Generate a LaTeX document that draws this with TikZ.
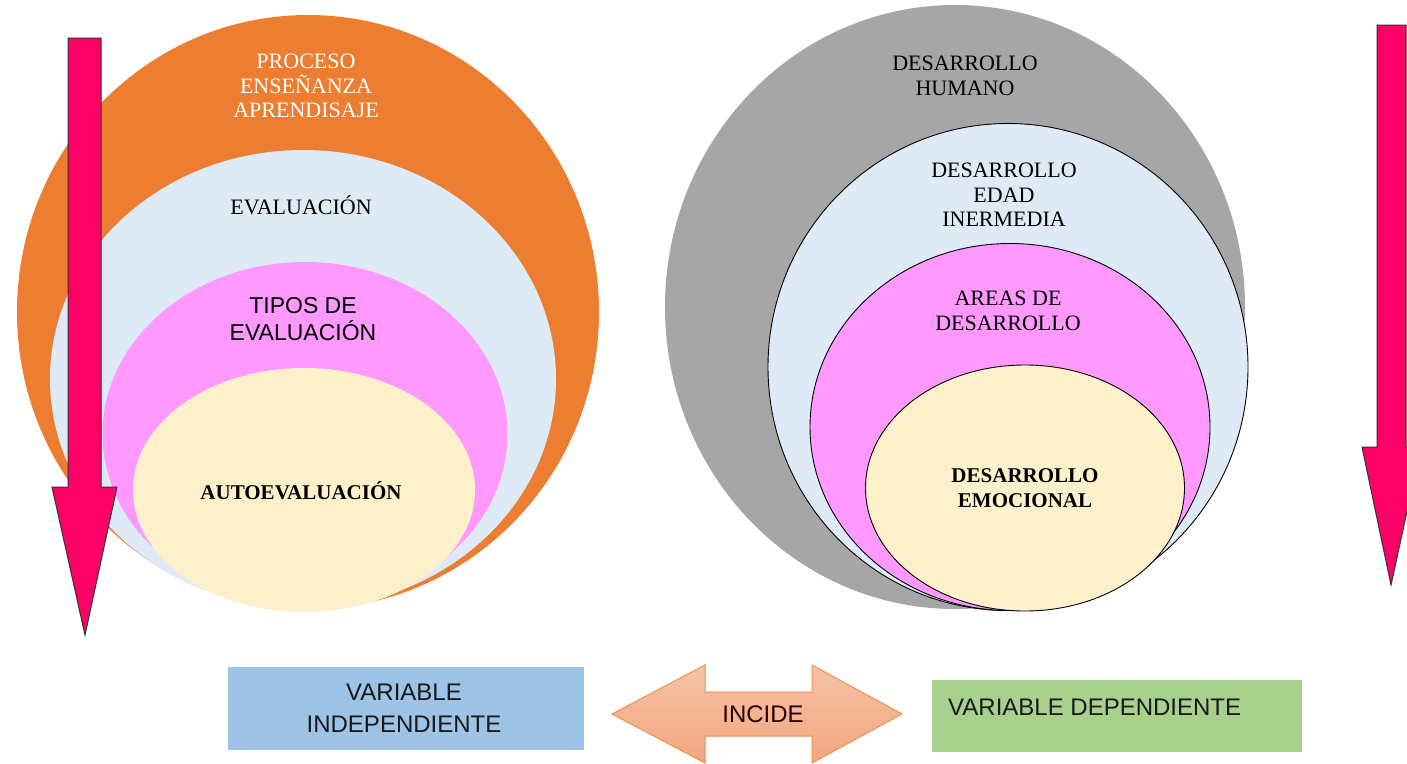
\documentclass[tikz,border=0pt]{standalone}
\usepackage{fontspec}
\setmainfont{Liberation Serif}
\newfontfamily\arialf{Liberation Sans}
\usetikzlibrary{shapes.geometric}
\definecolor{corange}{HTML}{ED7D31}
\definecolor{clblue}{HTML}{DEEBF7}
\definecolor{cpink}{HTML}{FF99FF}
\definecolor{ccream}{HTML}{FFF0CC}
\definecolor{cgray}{HTML}{A6A6A6}
\definecolor{carrow}{HTML}{FF0066}
\definecolor{cboxblue}{HTML}{9DC3E6}
\definecolor{cboxgreen}{HTML}{A9D18E}
\definecolor{cinclight}{HTML}{F6C2A6}
\definecolor{cincdark}{HTML}{F3A67F}
\tikzset{
  ell/.style={ellipse, inner sep=0pt, draw=none},
  ellline/.style={ellipse, inner sep=0pt, draw=black, line width=0.9pt},
  sertext/.style={align=center, font=\fontsize{22}{24.5}\selectfont, inner sep=0pt},
  sertextb/.style={align=center, font=\fontsize{21}{25}\selectfont\bfseries, inner sep=0pt},
  santext/.style={align=center, font=\arialf\fontsize{23}{27}\selectfont, inner sep=0pt},
  boxtext/.style={align=center, font=\arialf\fontsize{24}{32}\selectfont, inner sep=0pt, text=black!90},
  pinkarrow/.style={fill=carrow, draw=black!80, line width=1pt, line join=miter},
}
\begin{document}
\begin{tikzpicture}[x=1pt,y=-1pt]
\useasboundingbox (0,0) rectangle (1407,763);
\clip (0,0) rectangle (1407,763);
\fill[white] (0,0) rectangle (1407,763);

% Left nested ellipses
\node[ell, fill=corange, minimum width=582pt, minimum height=594pt] (proc) at (308,312) {};
\node[ell, fill=clblue, minimum width=506pt, minimum height=458pt] (eval) at (303,379) {};
\node[ell, fill=cpink, minimum width=405pt, minimum height=344pt] (tipos) at (305,434) {};
\node[ell, fill=ccream, minimum width=342pt, minimum height=244pt] (auto) at (304,490) {};

% Right nested ellipses
\node[ell, fill=cgray, minimum width=580pt, minimum height=604pt] (dh) at (955,307) {};
\node[ellline, fill=clblue, minimum width=480pt, minimum height=487pt] (dei) at (1008,367) {};
\node[ellline, fill=cpink, minimum width=400pt, minimum height=367pt] (ad) at (1010,427) {};
\node[ellline, fill=ccream, minimum width=319pt, minimum height=246pt] (de) at (1025,488) {};

% Texts in the circles
\node[sertext, text=white] (tproc) at (306,86) {PROCESO\\ENSEÑANZA\\APRENDISAJE};
\node[sertext] (teval) at (301,205) {EVALUACIÓN};
\node[santext] (ttipos) at (303,319) {TIPOS DE\\EVALUACIÓN};
\node[sertextb] (tauto) at (301,491) {AUTOEVALUACIÓN};
\node[sertext] (tdh) at (965,76) {DESARROLLO\\HUMANO};
\node[sertext] (tdei) at (1004,195) {DESARROLLO\\EDAD\\INERMEDIA};
\node[sertext] (tad) at (1008,311) {AREAS DE\\DESARROLLO};
\node[sertextb] (tde) at (1025,488) {DESARROLLO\\EMOCIONAL};

% Pink down arrows
\draw[pinkarrow] (68,38) -- (101,38) -- (101,487) -- (117,487) -- (85,635)
   -- (52,487) -- (68,487) -- cycle;
\draw[pinkarrow] (1377,25) -- (1406,25) -- (1406,447) -- (1421,447) -- (1391,585)
   -- (1362,447) -- (1377,447) -- cycle;

% Bottom boxes
\node[rectangle, fill=cboxblue, minimum width=356pt, minimum height=83pt, inner sep=0pt] (vi) at (406,708.5) {};
\node[boxtext] (tvi) at (404,708) {VARIABLE\\INDEPENDIENTE};
\node[rectangle, fill=cboxgreen, minimum width=370pt, minimum height=72pt, inner sep=0pt] (vd) at (1117,716) {};
\node[boxtext, anchor=west] (tvd) at (948,707) {VARIABLE DEPENDIENTE};

% Double arrow INCIDE
\draw[draw=corange!85, line width=1pt, top color=cinclight, bottom color=cincdark, line join=miter]
  (612,714) -- (705,665) -- (705,692) -- (812,692) -- (812,665) -- (902,714)
  -- (812,763) -- (812,736) -- (705,736) -- (705,763) -- cycle;
\node[boxtext, text=black!85!red] (tinc) at (763,714) {INCIDE};
\end{tikzpicture}
\end{document}
